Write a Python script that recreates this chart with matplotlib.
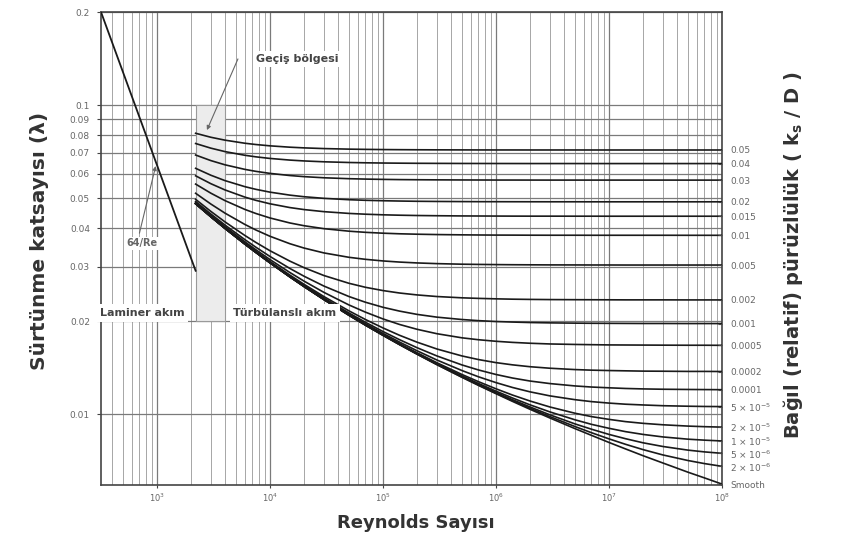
import numpy as np
import matplotlib
matplotlib.use('Agg')
import matplotlib.pyplot as plt
from matplotlib.ticker import LogLocator, FixedLocator, FixedFormatter, NullLocator
from matplotlib.patches import Rectangle

# Reynolds numbers where the curves were read
re_pts = [2200, 3000, 4000, 6000, 7500, 1e4, 1.5e4, 2e4, 3e4, 5e4, 7e4, 1e5, 1.4e5, 2e5, 3e5,
          5e5, 7e5, 1e6, 1.4e6, 2e6, 3e6, 5e6, 7e6, 1e7, 1.4e7, 2e7, 3e7, 5e7, 7e7, 1e8]

# friction factor x 1e5 for each relative roughness curve
f_0p05 = [8104, 7867, 7699, 7524, 7453, 7380, 7306, 7269, 7231, 7201, 7188, 7178, 7172, 7167, 7163,
          7160, 7158, 7157, 7157, 7156, 7156, 7156, 7155, 7155, 7155, 7155, 7155, 7155, 7155, 7155]
f_0p04 = [7509, 7254, 7070, 6879, 6800, 6719, 6637, 6595, 6553, 6519, 6504, 6493, 6486, 6480, 6476,
          6472, 6471, 6470, 6469, 6468, 6468, 6468, 6467, 6467, 6467, 6467, 6467, 6467, 6467, 6467]
f_0p03 = [6891, 6612, 6408, 6193, 6103, 6011, 5916, 5867, 5818, 5778, 5761, 5748, 5739, 5733, 5728,
          5724, 5722, 5720, 5720, 5719, 5718, 5718, 5718, 5718, 5718, 5718, 5718, 5717, 5717, 5717]
f_0p02 = [6242, 5929, 5696, 5445, 5338, 5227, 5112, 5052, 4991, 4941, 4919, 4903, 4892, 4883, 4877,
          4872, 4869, 4868, 4867, 4866, 4865, 4865, 4864, 4864, 4864, 4864, 4864, 4864, 4864, 4864]
f_0p015 = [5903, 5567, 5314, 5037, 4918, 4793, 4660, 4591, 4520, 4461, 4435, 4415, 4402, 4392, 4385,
           4378, 4376, 4374, 4372, 4371, 4371, 4370, 4370, 4369, 4369, 4369, 4369, 4369, 4369, 4369]
f_0p01 = [5550, 5187, 4908, 4596, 4459, 4313, 4155, 4071, 3982, 3908, 3875, 3850, 3833, 3821, 3811,
          3803, 3799, 3796, 3795, 3793, 3792, 3792, 3791, 3791, 3791, 3791, 3791, 3790, 3790, 3790]
f_0p005 = [5183, 4784, 4471, 4109, 3944, 3763, 3560, 3447, 3324, 3217, 3169, 3131, 3105, 3085, 3069,
           3056, 3051, 3047, 3044, 3042, 3040, 3039, 3038, 3038, 3037, 3037, 3037, 3037, 3037, 3037]
f_0p002 = [4953, 4529, 4189, 3785, 3595, 3379, 3127, 2979, 2809, 2651, 2573, 2511, 2466, 2431, 2402,
           2379, 2369, 2361, 2355, 2351, 2348, 2346, 2345, 2344, 2343, 2343, 2343, 2342, 2342, 2342]
f_0p001 = [4875, 4441, 4091, 3670, 3469, 3238, 2961, 2795, 2597, 2402, 2302, 2217, 2155, 2103, 2060,
           2024, 2007, 1994, 1986, 1979, 1974, 1970, 1968, 1967, 1966, 1965, 1965, 1964, 1964, 1964]
f_5em4 = [4835, 4397, 4041, 3611, 3404, 3164, 2873, 2695, 2478, 2256, 2138, 2033, 1951, 1882, 1821,
          1766, 1741, 1721, 1707, 1696, 1687, 1681, 1678, 1675, 1674, 1673, 1672, 1671, 1671, 1670]
f_2em4 = [4812, 4370, 4011, 3575, 3364, 3119, 2818, 2632, 2402, 2159, 2024, 1901, 1800, 1710, 1625,
          1543, 1502, 1468, 1444, 1424, 1408, 1394, 1388, 1384, 1381, 1378, 1377, 1375, 1375, 1374]
f_1em4 = [4804, 4361, 4001, 3562, 3351, 3104, 2799, 2610, 2375, 2125, 1983, 1851, 1742, 1641, 1543,
          1443, 1390, 1344, 1309, 1280, 1256, 1234, 1224, 1217, 1211, 1207, 1204, 1202, 1201, 1200]
f_5em5 = [4800, 4356, 3996, 3556, 3344, 3096, 2790, 2599, 2362, 2107, 1962, 1826, 1711, 1604, 1497,
          1384, 1321, 1265, 1220, 1181, 1146, 1114, 1098, 1086, 1077, 1071, 1065, 1061, 1059, 1058]
f_2em5 = [4797, 4354, 3993, 3553, 3340, 3091, 2784, 2593, 2354, 2096, 1949, 1810, 1692, 1580, 1467,
          1344, 1274, 1208, 1153, 1103, 1055, 1007, 982, 962, 946, 934, 924, 915, 911, 908]
f_1em5 = [4797, 4353, 3992, 3552, 3338, 3090, 2782, 2591, 2351, 2093, 1945, 1804, 1685, 1572, 1457,
          1330, 1257, 1187, 1128, 1072, 1017, 959, 927, 900, 878, 860, 844, 830, 824, 819]
f_5em6 = [4796, 4352, 3991, 3551, 3338, 3089, 2782, 2589, 2350, 2091, 1943, 1802, 1682, 1568, 1452,
          1323, 1248, 1176, 1114, 1055, 995, 930, 894, 860, 833, 808, 786, 765, 755, 747]
f_2em6 = [4796, 4352, 3991, 3551, 3337, 3089, 2781, 2589, 2349, 2090, 1941, 1800, 1680, 1565, 1448,
          1319, 1243, 1169, 1106, 1045, 982, 912, 871, 832, 799, 768, 738, 708, 692, 678]
f_smooth = [4796, 4352, 3991, 3550, 3337, 3088, 2781, 2588, 2348, 2089, 1940, 1799, 1679, 1564, 1446,
            1316, 1239, 1165, 1100, 1037, 972, 898, 854, 810, 772, 734, 695, 649, 622, 594]

curves = [f_0p05, f_0p04, f_0p03, f_0p02, f_0p015, f_0p01, f_0p005, f_0p002,
          f_0p001, f_5em4, f_2em4, f_1em4, f_5em5, f_2em5, f_1em5, f_5em6,
          f_2em6, f_smooth]
rough_labels = ['0.05', '0.04', '0.03', '0.02', '0.015', '0.01', '0.005', '0.002',
                '0.001', '0.0005', '0.0002', '0.0001',
                r'5 × 10$^{-5}$', r'2 × 10$^{-5}$', r'1 × 10$^{-5}$',
                r'5 × 10$^{-6}$', r'2 × 10$^{-6}$', 'Smooth']

# laminar line 64/Re
lam_re = [320, 2200]
lam_f = [0.2, 0.0291]

# left axis ticks
y_ticks = [0.01, 0.02, 0.03, 0.04, 0.05, 0.06, 0.07, 0.08, 0.09, 0.1, 0.2]
y_labels = ['0.01', '0.02', '0.03', '0.04', '0.05', '0.06', '0.07', '0.08', '0.09', '0.1', '0.2']

plt.rcParams['font.family'] = ['DejaVu Sans']

fig = plt.figure(figsize=(8.42, 5.44), dpi=100)
ax = fig.add_axes([101/842, 59/544, 621/842, 473/544])
ax.set_xscale('log')
ax.set_yscale('log')
ax.set_xlim(320, 1e8)
ax.set_ylim(0.0059, 0.2)

# grid
ax.xaxis.set_major_locator(LogLocator(base=10, numticks=12))
ax.xaxis.set_minor_locator(LogLocator(base=10, subs=np.arange(2, 10), numticks=12))
ax.yaxis.set_major_locator(FixedLocator(y_ticks))
ax.yaxis.set_major_formatter(FixedFormatter(y_labels))
ax.yaxis.set_minor_locator(NullLocator())
ax.grid(True, which='major', axis='x', color='#7a7a7a', lw=0.9)
ax.grid(True, which='minor', axis='x', color='#a6a6a6', lw=0.7)
ax.grid(True, which='major', axis='y', color='#7a7a7a', lw=0.9)
ax.set_axisbelow(True)

ax.tick_params(axis='both', which='both', labelsize=6, colors='#444', labelcolor='#666')
ax.tick_params(axis='x', which='major', length=2, pad=3)
ax.tick_params(axis='x', which='minor', length=0)
ax.tick_params(axis='y', length=3, pad=5, labelsize=6.5)
for s in ax.spines.values():
    s.set_color('#444')
    s.set_linewidth(1.2)

# transition zone
ax.add_patch(Rectangle((2200, 0.02), 4000 - 2200, 0.1 - 0.02, facecolor='#ececec',
                       edgecolor='#9a9a9a', lw=0.8, zorder=1.5))

# laminar line
ax.plot(lam_re, lam_f, color='#1a1a1a', lw=1.3, zorder=3)

# turbulent curves
for c in curves:
    ax.plot(re_pts, np.array(c) / 1e5, color='#1a1a1a', lw=1.2, zorder=3)

# right axis: relative roughness labels at curve ends
ax2 = ax.twinx()
ax2.set_yscale('log')
ax2.set_ylim(ax.get_ylim())
ax2.yaxis.set_major_locator(FixedLocator([c[-1] / 1e5 for c in curves]))
ax2.yaxis.set_major_formatter(FixedFormatter(rough_labels))
ax2.yaxis.set_minor_locator(NullLocator())
ax2.tick_params(axis='y', labelsize=6.5, labelcolor='#666', colors='#444',
                direction='in', length=3, pad=6)
for s in ax2.spines.values():
    s.set_visible(False)

# annotations
box = dict(boxstyle='square,pad=0.3', fc='white', ec='none')
arrow = dict(arrowstyle='-|>', color='#666', lw=0.8, mutation_scale=6, shrinkA=0, shrinkB=0)
ax.text(7510, 0.141, 'Geçiş bölgesi', fontsize=8, fontweight='bold', color='#444',
        ha='left', va='center', bbox=box, zorder=6)
ax.annotate('', xy=(2770, 0.083), xytext=(5210, 0.141), arrowprops=arrow, zorder=6)
ax.text(736, 0.0357, '64/Re', fontsize=7, fontweight='bold', color='#666',
        ha='center', va='center', bbox=dict(boxstyle='square,pad=0.15', fc='white', ec='none'),
        zorder=6)
ax.annotate('', xy=(975, 0.0635), xytext=(700, 0.0385), arrowprops=arrow, zorder=6)
ax.text(737, 0.0212, 'Laminer akım', fontsize=8, fontweight='bold', color='#444',
        ha='center', va='center', bbox=dict(boxstyle='square,pad=0.35', fc='white', ec='none'),
        zorder=6, clip_on=False)
ax.text(13600, 0.0212, 'Türbülanslı akım', fontsize=8, fontweight='bold', color='#444',
        ha='center', va='center', bbox=dict(boxstyle='square,pad=0.35', fc='white', ec='none'),
        zorder=6)

# axis titles
fig.text(40/842, 1 - 241/544, 'Sürtünme katsayısı (λ)', rotation=90, ha='center', va='center',
         fontsize=14.5, fontweight='bold', color='#333')
fig.text(793/842, 1 - 255/544, r'Bağıl (relatif) pürüzlülük ( k$_\mathbf{s}$ / D )', rotation=90,
         ha='center', va='center', fontsize=14, fontweight='bold', color='#333')
fig.text(416/842, 1 - 523/544, 'Reynolds Sayısı', ha='center', va='center',
         fontsize=13, fontweight='bold', color='#333')

fig.savefig('out.png', dpi=100)
